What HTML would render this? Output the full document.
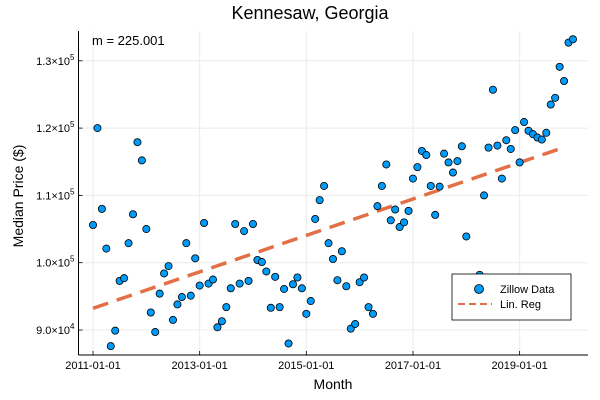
<!DOCTYPE html>
<html><head><meta charset="utf-8"><style>
body{margin:0;background:#fff;}
svg{display:block;font-family:"Liberation Sans",sans-serif;}
</style></head><body>
<svg id="chart" width="600" height="400" xmlns="http://www.w3.org/2000/svg">
<rect width="600" height="400" fill="#fff"/>
<text x="310" y="19" font-size="18" text-anchor="middle" fill="#000">Kennesaw, Georgia</text>
<text x="333" y="389" font-size="14" text-anchor="middle">Month</text>
<text x="0" y="0" font-size="14" text-anchor="middle" transform="translate(23,196) rotate(-90)">Median Price ($)</text>
<g id="grid"></g>
<g id="reg"></g>
<g id="pts"></g>
<g id="axes"></g>
<text x="92" y="45" font-size="13">m = 225.001</text>
<g>
<rect x="452" y="274" width="119" height="46" fill="#fff" stroke="#000" stroke-width="0.8"/>
<circle cx="479" cy="289" r="4.5" fill="#009af9" stroke="#000" stroke-width="0.8"/>
<text x="500" y="293" font-size="11">Zillow Data</text>
<line x1="458" y1="304" x2="492" y2="304" stroke="#e26f46" stroke-width="2" stroke-dasharray="7,4"/>
<text x="500" y="308" font-size="11">Lin. Reg</text>
</g>
</svg>
<script>
const prices = [105600,120000,108000,102100,87600,89900,97300,97700,102900,107200,117900,115200,105000,92600,89700,95400,98400,99500,91500,93800,94900,102900,95100,100650,96600,105900,96900,97500,90400,91300,93400,96200,105750,96900,104700,97300,105750,100400,100100,98700,93300,97900,93400,96100,88000,96800,97800,96200,92400,94300,106500,109300,111400,102900,100550,97400,101700,96500,90200,90900,97100,97800,93400,92400,108400,111400,114600,106300,107900,105300,106000,107700,112500,114200,116600,116000,111400,107100,111300,116200,114900,113400,115100,117300,103900,96000,96500,98200,110000,117100,125700,117400,112500,118200,116900,119700,114900,120900,119600,119100,118600,118300,119300,123500,124500,129100,127000,132700,133200];
const xTickMonths = [0,24,48,72,96];
const xTickLabels = ["2011-01-01","2013-01-01","2015-01-01","2017-01-01","2019-01-01"];
const yTickValues = [90000,100000,110000,120000,130000];
const yTickMant = ["9.0","1.0","1.1","1.2","1.3"];
const yTickExp = ["4","5","5","5","5"];
const regEndMonth = 105;

const NS="http://www.w3.org/2000/svg";
function xs(m){return 93+m*4.444;}
function ys(v){return 330-(v-90000)*0.00673;}
function mk(tag,attrs,parent){const e=document.createElementNS(NS,tag);for(const k in attrs)e.setAttribute(k,attrs[k]);parent.appendChild(e);return e;}
const grid=document.getElementById('grid'),axes=document.getElementById('axes'),pts=document.getElementById('pts'),reg=document.getElementById('reg');
const L=78.5,R=588,T=31,B=355;
xTickMonths.forEach((m,i)=>{
  const x=xs(m);
  const g=mk('line',{x1:x,y1:T,x2:x,y2:B,stroke:'#ebebeb','stroke-width':1},grid);
  
  
  const t=mk('line',{x1:x,y1:B,x2:x,y2:B-4,stroke:'#000','stroke-width':0.8},axes);
  
  
  const lb=mk('text',{x:x,y:B+14,'font-size':11,'text-anchor':'middle'},axes);
  lb.textContent=xTickLabels[i];
  
  
});
yTickValues.forEach((v,i)=>{
  const y=ys(v);
  const g=mk('line',{x1:L,y1:y,x2:R,y2:y,stroke:'#ebebeb','stroke-width':1},grid);
  
  
  const t=mk('line',{x1:L,y1:y,x2:L+4,y2:y,stroke:'#000','stroke-width':0.8},axes);
  
  
  const lb=mk('text',{x:L-4,y:y+4,'font-size':11,'text-anchor':'end'},axes);
  
  
  const a=document.createElementNS(NS,'tspan');a.textContent=yTickMant[i]+'\u00d710';lb.appendChild(a);
  const b=document.createElementNS(NS,'tspan');b.setAttribute('dy','-5');b.setAttribute('font-size','8');b.textContent=yTickExp[i];lb.appendChild(b);
});
const xa=mk('line',{x1:L,y1:B,x2:R,y2:B,stroke:'#000','stroke-width':1},axes);


const ya=mk('line',{x1:L,y1:T,x2:L,y2:B,stroke:'#000','stroke-width':1},axes);


// least-squares fit
const n=prices.length;let sx=0,sy=0,sxx=0,sxy=0;
prices.forEach((v,i)=>{sx+=i;sy+=v;sxx+=i*i;sxy+=i*v;});
const slope=(n*sxy-sx*sy)/(n*sxx-sx*sx),icpt=(sy-slope*sx)/n;
const rl=mk('line',{x1:xs(0),y1:ys(icpt),x2:xs(regEndMonth),y2:ys(icpt+slope*regEndMonth),stroke:'#e26f46','stroke-width':3.5,'stroke-dasharray':'16,9'},reg);


prices.forEach((v,i)=>{
  const c=mk('circle',{cx:xs(i),cy:ys(v),r:3.6,fill:'#009af9',stroke:'#000','stroke-width':0.8},pts);
  
  
});
</script>
</body></html>
